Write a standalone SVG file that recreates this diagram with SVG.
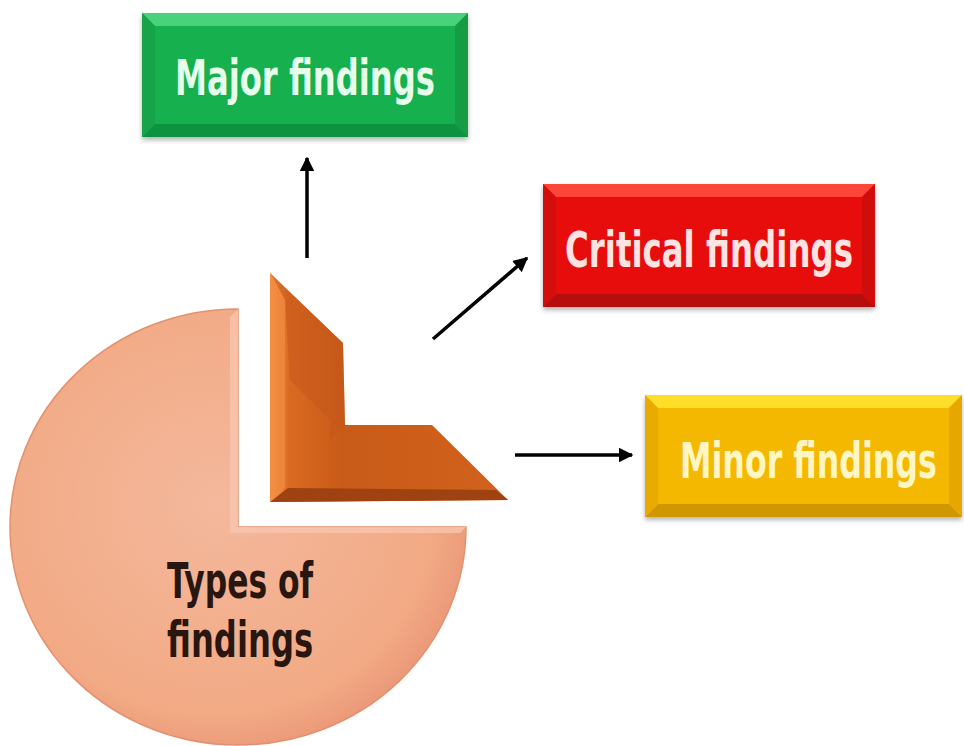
<svg xmlns="http://www.w3.org/2000/svg" width="964" height="746" viewBox="0 0 964 746">
<style>
.lbl{font-family:"DejaVu Sans Condensed","DejaVu Sans",sans-serif;font-weight:bold;font-stretch:condensed;font-size:50px}
.conn{stroke:#000;stroke-width:3.5;fill:none;marker-end:url(#ah)}
</style>
<defs>
<marker id="ah" viewBox="0 0 10 10" refX="9" refY="5" markerWidth="4.2" markerHeight="4.2" orient="auto" markerUnits="strokeWidth">
<path d="M0 0 L10 5 L0 10 Z" fill="#000"/>
</marker>
<radialGradient id="pieG" cx="0.45" cy="0.45" r="0.6">
<stop offset="0" stop-color="#f4b89c"/>
<stop offset="0.8" stop-color="#f2aa85"/>
<stop offset="1" stop-color="#e99474"/>
</radialGradient>
<linearGradient id="sliceG" x1="0" y1="0" x2="1" y2="0">
<stop offset="0" stop-color="#f79a4c"/>
<stop offset="0.08" stop-color="#da6a22"/>
<stop offset="0.3" stop-color="#c85b18"/>
<stop offset="1" stop-color="#d2621c"/>
</linearGradient>
<filter id="sh" x="-10%" y="-10%" width="120%" height="130%">
<feGaussianBlur in="SourceAlpha" stdDeviation="2.5"/>
<feOffset dx="0" dy="3" result="b"/>
<feComponentTransfer><feFuncA type="linear" slope="0.3"/></feComponentTransfer>
<feMerge><feMergeNode/><feMergeNode in="SourceGraphic"/></feMerge>
</filter>
</defs>
<rect width="964" height="746" fill="#ffffff"/>

<g id="types">
<path d="M238 527 L238 309 A228 218 0 1 0 466 527 Z" fill="url(#pieG)" stroke="#e4906e" stroke-width="1.5"/>
<path d="M238 309 L230 317 L230 533 L460 533 L466 527 L238 527 Z" fill="#f8c6ae" opacity="0.8"/>
<text class="lbl" transform="translate(167,598) scale(0.56,1)" font-size="62" textLength="261" lengthAdjust="spacingAndGlyphs" fill="#2a1610">Types of</text>
<text class="lbl" transform="translate(167,657) scale(0.56,1)" font-size="62" textLength="261" lengthAdjust="spacingAndGlyphs" fill="#2a1610">findings</text>
</g>

<g id="slice">
<polygon points="270,273 343,343 345,425 432,425 508,500 270,502" fill="url(#sliceG)"/>
<polygon points="270,273 343,343 345,425 330,440 330,420 290,380 285,300" fill="#c4561a" opacity="0.5"/>
<polygon points="270,502 508,500 496,490 288,488" fill="#9e4212"/>
<polygon points="270,273 285,300 285,488 270,502" fill="#f28a3e" opacity="0.7"/>
</g>

<g id="major">
<g filter="url(#sh)">
<rect x="142" y="13" width="326" height="124" fill="#17b04f"/>
<polygon points="142,13 468,13 455,26 155,26" fill="#48d27c"/>
<polygon points="142,137 468,137 455,124 155,124" fill="#0e9340"/>
<polygon points="142,13 155,26 155,124 142,137" fill="#15a348"/>
<polygon points="468,13 455,26 455,124 468,137" fill="#139c45"/>
</g>
<text class="lbl" transform="translate(175,95) scale(0.71,1)" textLength="366" lengthAdjust="spacingAndGlyphs" fill="#e6fde9">Major findings</text>
</g>

<g id="critical">
<g filter="url(#sh)">
<rect x="543" y="184" width="332" height="123" fill="#e8100f"/>
<polygon points="543,184 875,184 862,197 556,197" fill="#ff4538"/>
<polygon points="543,307 875,307 862,294 556,294" fill="#b60a0a"/>
<polygon points="543,184 556,197 556,294 543,307" fill="#d40d0d"/>
<polygon points="875,184 862,197 862,294 875,307" fill="#cf0c0c"/>
</g>
<text class="lbl" transform="translate(565,267) scale(0.72,1)" textLength="400" lengthAdjust="spacingAndGlyphs" fill="#ffe2e2">Critical findings</text>
</g>

<g id="minor">
<g filter="url(#sh)">
<rect x="645" y="395" width="317" height="122" fill="#f5b800"/>
<polygon points="645,395 962,395 949,408 658,408" fill="#ffde2a"/>
<polygon points="645,517 962,517 949,504 658,504" fill="#cf9800"/>
<polygon points="645,395 658,408 658,504 645,517" fill="#e9ab00"/>
<polygon points="962,395 949,408 949,504 962,517" fill="#e6a800"/>
</g>
<text class="lbl" transform="translate(680,478) scale(0.70,1)" textLength="367" lengthAdjust="spacingAndGlyphs" fill="#fff6c4">Minor findings</text>
</g>

<g id="connectors">
<line class="conn" x1="307" y1="258" x2="307" y2="158"/>
<line class="conn" x1="433" y1="339" x2="527" y2="258"/>
<line class="conn" x1="515" y1="455" x2="632" y2="455"/>
</g>
</svg>
